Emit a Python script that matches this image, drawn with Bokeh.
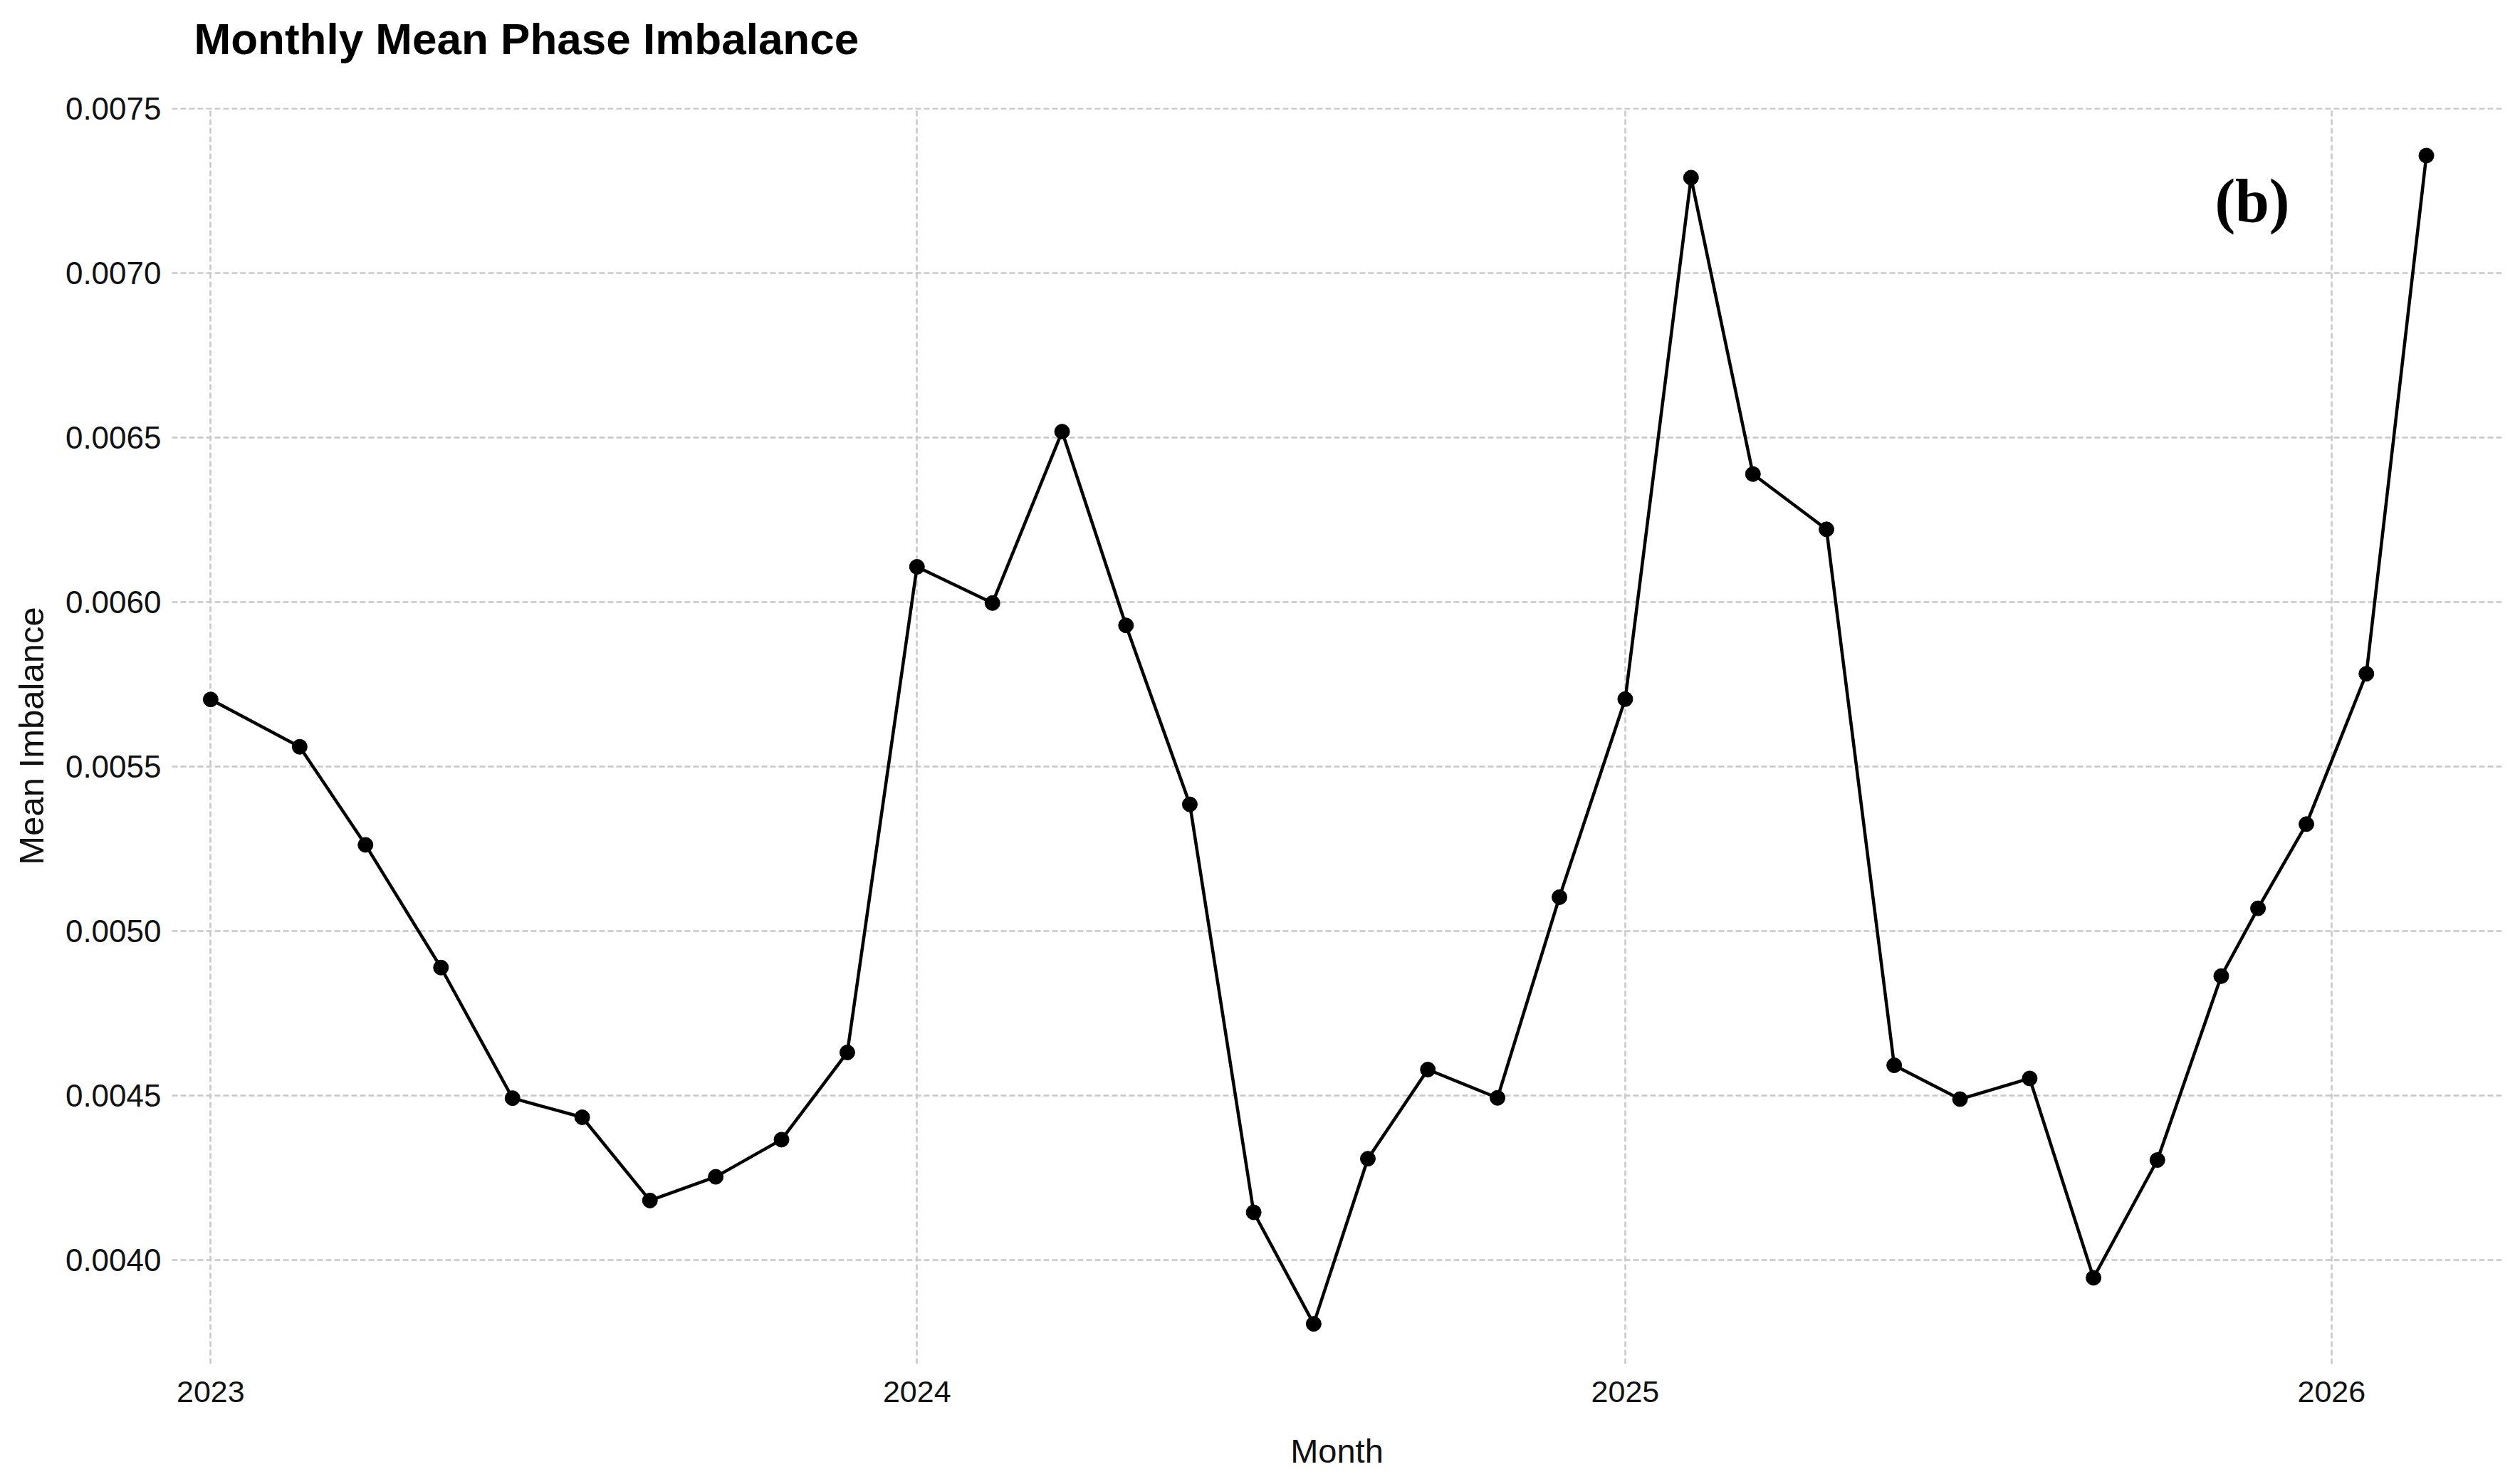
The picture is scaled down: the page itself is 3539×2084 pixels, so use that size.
import pandas as pd
from bokeh.plotting import figure
from bokeh.models import (Range1d, FixedTicker, NumeralTickFormatter,
                          DatetimeTickFormatter, Label, Title, ColumnDataSource)
from bokeh.embed import file_html
from bokeh.resources import INLINE

# ---- data ----
months = [
    "2023-01-01", "2023-02-16", "2023-03-22", "2023-04-30", "2023-06-06",
    "2023-07-12", "2023-08-16", "2023-09-19", "2023-10-23", "2023-11-26",
    "2024-01-01", "2024-02-09", "2024-03-16", "2024-04-18", "2024-05-21",
    "2024-06-23", "2024-07-24", "2024-08-21", "2024-09-21", "2024-10-27",
    "2024-11-28", "2025-01-01", "2025-02-04", "2025-03-08", "2025-04-15",
    "2025-05-20", "2025-06-23", "2025-07-29", "2025-08-31", "2025-10-03",
    "2025-11-05", "2025-11-24", "2025-12-19", "2026-01-19", "2026-02-19",
]
mean_imbalance = [
    0.005705, 0.005561, 0.005263, 0.004890, 0.004493,
    0.004435, 0.004182, 0.004254, 0.004367, 0.004632,
    0.006108, 0.005998, 0.006519, 0.005930, 0.005386,
    0.004146, 0.003807, 0.004309, 0.004580, 0.004494,
    0.005104, 0.005706, 0.007291, 0.006390, 0.006222,
    0.004593, 0.004490, 0.004553, 0.003947, 0.004305,
    0.004864, 0.005070, 0.005326, 0.005783, 0.007358,
]
year_ticks = ["2023-01-01", "2024-01-01", "2025-01-01", "2026-01-01"]
y_ticks = [0.0040, 0.0045, 0.0050, 0.0055, 0.0060, 0.0065, 0.0070, 0.0075]
title_text = "Monthly Mean Phase Imbalance"

src = ColumnDataSource(dict(month=pd.to_datetime(months), value=mean_imbalance))

SANS = "Liberation Sans"

p = figure(
    width=3531, height=2076,
    x_axis_type="datetime",
    x_range=Range1d(pd.Timestamp("2022-12-12"), pd.Timestamp("2026-03-30")),
    y_range=Range1d(0.003685, 0.007503),
    output_backend="svg", toolbar_location=None,
    min_border_left=241, min_border_right=18,
    min_border_top=151, min_border_bottom=161,
    background_fill_color="white", border_fill_color="white",
)
p.outline_line_color = None

# spacer between the title and the plot frame
p.add_layout(Title(text=" ", text_font_size="10px", standoff=50), "above")

# title
p.title.text = title_text
p.title.text_font = SANS
p.title.text_font_style = "bold"
p.title.text_font_size = "62px"
p.title.text_color = "black"
p.title.align = "left"
p.title.offset = 31
p.title.standoff = 0

# line + points
p.line("month", "value", source=src, line_color="black", line_width=4.5)
p.scatter("month", "value", source=src, size=21, fill_color="black",
          line_color="black")

# axes
xa = p.xaxis[0]
xa.ticker = FixedTicker(ticks=[pd.Timestamp(t).value / 1e6 for t in year_ticks])
xa.formatter = DatetimeTickFormatter(years="%Y", months="%Y", days="%Y",
                                     hours="%Y", minutes="%Y", seconds="%Y")
xa.axis_label = "Month"
ya = p.yaxis[0]
ya.ticker = FixedTicker(ticks=y_ticks)
ya.formatter = NumeralTickFormatter(format="0.0000")
ya.axis_label = "Mean Imbalance"

for ax in (xa, ya):
    ax.axis_line_color = None
    ax.major_tick_line_color = None
    ax.minor_tick_line_color = None
    ax.major_tick_out = 0
    ax.major_tick_in = 0
    ax.minor_tick_out = 0
    ax.major_label_text_font = SANS
    ax.major_label_text_color = "#111111"
    ax.axis_label_text_font = SANS
    ax.axis_label_text_font_style = "normal"
    ax.axis_label_text_color = "#111111"

xa.major_label_text_font_size = "43px"
xa.major_label_standoff = 24
xa.axis_label_text_font_size = "47px"
xa.axis_label_standoff = 39
ya.major_label_text_font_size = "44px"
ya.major_label_standoff = 15
ya.axis_label_text_font_size = "49px"
ya.axis_label_standoff = 18

# grid
for g in (p.xgrid[0], p.ygrid[0]):
    g.grid_line_color = "#c8c8c8"
    g.grid_line_width = 2.5
    g.grid_line_dash = "8 4"
p.xgrid[0].ticker = xa.ticker
p.ygrid[0].ticker = ya.ticker

# panel tag
p.add_layout(Label(x=pd.Timestamp("2025-11-21"), y=0.00722, text="(b)",
                   text_font="Liberation Serif", text_font_style="bold",
                   text_font_size="86px", text_align="center",
                   text_baseline="middle", text_color="black"))

open("out.html", "w").write(file_html(p, INLINE))
